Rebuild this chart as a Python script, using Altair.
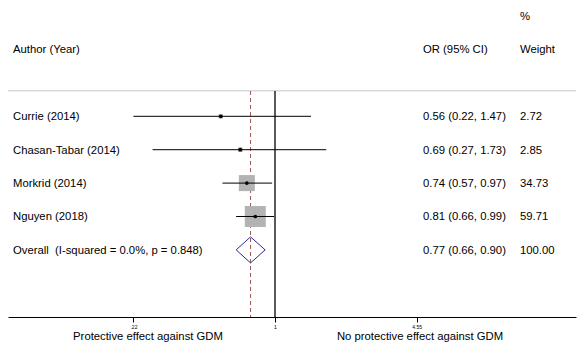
import altair as alt
import pandas as pd

# ---- data ----
authors = ["Currie (2014)", "Chasan-Tabar (2014)", "Morkrid (2014)", "Nguyen (2018)"]
or_est = [0.56, 0.69, 0.74, 0.81]
ci_low = [0.22, 0.27, 0.57, 0.66]
ci_high = [1.47, 1.73, 0.97, 0.99]
weights = [2.72, 2.85, 34.73, 59.71]

overall_label = "Overall\u00a0 (I-squared = 0.0%, p = 0.848)"
overall_est = 0.77
overall_low = 0.66
overall_high = 0.90
overall_weight = 100.00

tick_values = [0.22, 1, 4.55]
tick_labels = [".22", "1", "4.55"]

left_label = "Protective effect against GDM"
right_label = "No protective effect against GDM"

FONT = "Liberation Sans"
FS = 11.3

rows = list(range(1, len(authors) + 1))
overall_row = len(authors) + 1

studies = pd.DataFrame({
    "author": authors, "est": or_est, "lo": ci_low, "hi": ci_high,
    "w": weights, "row": rows,
})
studies["ortext"] = [f"{e:.2f} ({l:.2f}, {h:.2f})" for e, l, h in zip(or_est, ci_low, ci_high)]
studies["wtext"] = [f"{w:.2f}" for w in weights]

overall = pd.DataFrame({
    "author": [overall_label], "est": [overall_est], "lo": [overall_low],
    "hi": [overall_high], "row": [overall_row],
    "ortext": [f"{overall_est:.2f} ({overall_low:.2f}, {overall_high:.2f})"],
    "wtext": [f"{overall_weight:.2f}"],
})
labels_df = pd.concat([studies[["author", "row", "ortext", "wtext"]],
                       overall[["author", "row", "ortext", "wtext"]]]).reset_index(drop=True)

half_h = 0.39
diamond = pd.DataFrame({
    "x": [overall_low, overall_est, overall_high, overall_est, overall_low],
    "y": [overall_row, overall_row - half_h, overall_row, overall_row + half_h, overall_row],
    "o": [0, 1, 2, 3, 4],
})

top_row = 0.2425
bottom_row = 7.009
null_df = pd.DataFrame({"x": [1.0], "y0": [top_row], "y1": [bottom_row]})
pooled_df = pd.DataFrame({"x": [overall_est], "y0": [top_row], "y1": [bottom_row]})

xs = alt.Scale(type="log", domain=[0.05752, 25.01], nice=False)
ys = alt.Scale(domain=[-2.482, 7.009], reverse=True, nice=False, zero=False)

label_expr = "".join(
    f"datum.value == {v} ? '{t}' : " for v, t in zip(tick_values, tick_labels)
) + "datum.label"

axis = alt.Axis(values=tick_values, labelExpr=label_expr, labelFontSize=5,
                labelFont=FONT, labelColor="black", tickSize=5, tickColor="black",
                domainColor="black", domainWidth=1, tickWidth=1, grid=False,
                title=None, labelPadding=2, labelFlush=False, labelOverlap=False)


def X(field):
    return alt.X(field, scale=xs, axis=axis, title=None)


def Y(field):
    return alt.Y(field, scale=ys, axis=None)


base = alt.Chart(studies)

top_line = alt.Chart(pd.DataFrame({"y": [top_row - 0.01]})).mark_rule(
    color="#d9d9d9", strokeWidth=1.5
).encode(y=Y("y:Q"), x=alt.value(0), x2=alt.value(568))

null_line = alt.Chart(null_df).mark_rule(color="black", strokeWidth=1.3).encode(
    x=X("x:Q"), y=Y("y0:Q"), y2="y1:Q",
)

pooled_line = alt.Chart(pooled_df).mark_rule(
    color="#9c5656", strokeWidth=1, strokeDash=[4, 3]
).encode(x=X("x:Q"), y=Y("y0:Q"), y2="y1:Q")

squares = base.mark_square(color="#b3b3b3", opacity=1).encode(
    x=X("est:Q"), y=Y("row:Q"),
    size=alt.Size("w:Q", scale=alt.Scale(domain=[0, 60], range=[0, 443]), legend=None),
)

ci = base.mark_rule(color="black", strokeWidth=1).encode(
    x=X("lo:Q"), x2="hi:Q", y=Y("row:Q"),
)

dots = base.mark_circle(color="black", size=14, opacity=1).encode(
    x=X("est:Q"), y=Y("row:Q"),
)

dia = alt.Chart(diamond).mark_line(color="#2a2a9c", strokeWidth=1).encode(
    x=X("x:Q"), y=Y("y:Q"), order="o:Q",
)

txt = dict(font=FONT, fontSize=FS, color="black", baseline="middle", align="left", dy=1)

author_txt = alt.Chart(labels_df).mark_text(**txt).encode(
    x=alt.value(5), y=Y("row:Q"), text="author:N")
or_txt = alt.Chart(labels_df).mark_text(**txt).encode(
    x=alt.value(415), y=Y("row:Q"), text="ortext:N")
w_txt = alt.Chart(labels_df).mark_text(**txt).encode(
    x=alt.value(512), y=Y("row:Q"), text="wtext:N")

header_t = ["Author (Year)", "OR (95% CI)", "Weight", "%"]
header_px = [5, 415, 512, 512]
header_py = [49, 49, 49, 16]
header_layers = [
    alt.Chart(pd.DataFrame({"t": [t]})).mark_text(**txt).encode(
        x=alt.value(px), y=alt.value(py), text="t:N")
    for t, px, py in zip(header_t, header_px, header_py)
]

bottom_t = [left_label, right_label]
bottom_px = [140, 412]
bottom_layers = [
    alt.Chart(pd.DataFrame({"t": [t]})).mark_text(
        font=FONT, fontSize=FS, color="black", baseline="middle", align="center"
    ).encode(x=alt.value(px), y=alt.value(337), text="t:N")
    for t, px in zip(bottom_t, bottom_px)
]

chart = alt.layer(
    top_line, null_line, pooled_line, squares, ci, dots, dia,
    author_txt, or_txt, w_txt, *header_layers, *bottom_layers,
).properties(
    width=568, height=317,
    padding={"left": 8, "right": 10, "top": 0, "bottom": 35},
    autosize=alt.AutoSizeParams(type="none"),
    background="white",
).configure_view(stroke=None)

chart.save("out.html", embed_options={"renderer": "svg", "actions": False})
